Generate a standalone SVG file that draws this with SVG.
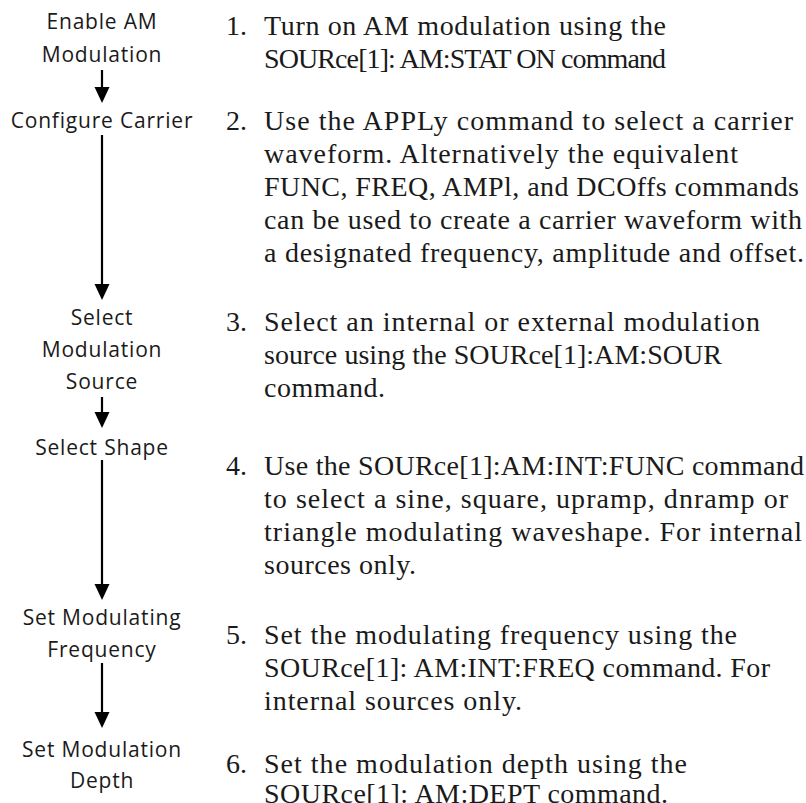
<svg xmlns="http://www.w3.org/2000/svg" width="806" height="803" viewBox="0 0 806 803">
<style>
.lbl{font-family:"Open Sans","DejaVu Sans",sans-serif;font-size:21px;letter-spacing:0.8px;fill:#1a1a1a;text-anchor:middle}
.txt{font-family:"Liberation Serif","Times New Roman",serif;font-size:28px;fill:#1a1a1a}
.nat{letter-spacing:0.5px}
.num{font-family:"Liberation Serif","Times New Roman",serif;font-size:28px;fill:#1a1a1a}
.conn{stroke:#000;stroke-width:2.2;fill:none}
.head{fill:#000}
</style>
<rect width="806" height="803" fill="#fff"/>
<g id="connectors">
<line class="conn" x1="102" y1="70" x2="102" y2="88"/><path class="head" d="M94.5,87 L109.5,87 L102,103 Z"/>
<line class="conn" x1="102" y1="135" x2="102" y2="286"/><path class="head" d="M94.5,284 L109.5,284 L102,300 Z"/>
<line class="conn" x1="102" y1="397" x2="102" y2="414"/><path class="head" d="M94.5,412 L109.5,412 L102,428 Z"/>
<line class="conn" x1="102" y1="460" x2="102" y2="586"/><path class="head" d="M94.5,584 L109.5,584 L102,600 Z"/>
<line class="conn" x1="102" y1="663" x2="102" y2="714"/><path class="head" d="M94.5,712 L109.5,712 L102,728 Z"/>
</g>
<g id="step1">
<text class="lbl" x="102" y="29">Enable AM</text>
<text class="lbl" x="102" y="62">Modulation</text>
<text class="num" x="226" y="35">1.</text>
<text class="txt" x="264" y="35" textLength="402" lengthAdjust="spacing">Turn on AM modulation using the</text>
<text class="txt" x="264" y="68" textLength="402" lengthAdjust="spacing">SOURce[1]: AM:STAT ON command</text>
</g>
<g id="step2">
<text class="lbl" x="102" y="128">Configure Carrier</text>
<text class="num" x="226" y="130">2.</text>
<text class="txt" x="264" y="130" textLength="529" lengthAdjust="spacing">Use the APPLy command to select a carrier</text>
<text class="txt" x="264" y="163" textLength="474" lengthAdjust="spacing">waveform. Alternatively the equivalent</text>
<text class="txt" x="264" y="196" textLength="535" lengthAdjust="spacing">FUNC, FREQ, AMPl, and DCOffs commands</text>
<text class="txt" x="264" y="229" textLength="538" lengthAdjust="spacing">can be used to create a carrier waveform with</text>
<text class="txt" x="264" y="262" textLength="540" lengthAdjust="spacing">a designated frequency, amplitude and offset.</text>
</g>
<g id="step3">
<text class="lbl" x="102" y="325">Select</text>
<text class="lbl" x="102" y="357">Modulation</text>
<text class="lbl" x="102" y="389">Source</text>
<text class="num" x="226" y="331">3.</text>
<text class="txt" x="264" y="331" textLength="496" lengthAdjust="spacing">Select an internal or external modulation</text>
<text class="txt" x="264" y="364" textLength="458" lengthAdjust="spacing">source using the SOURce[1]:AM:SOUR</text>
<text class="txt nat" x="264" y="397">command.</text>
</g>
<g id="step4">
<text class="lbl" x="102" y="455">Select Shape</text>
<text class="num" x="226" y="475">4.</text>
<text class="txt" x="264" y="475" textLength="540" lengthAdjust="spacing">Use the SOURce[1]:AM:INT:FUNC command</text>
<text class="txt" x="264" y="508" textLength="524" lengthAdjust="spacing">to select a sine, square, upramp, dnramp or</text>
<text class="txt" x="264" y="541" textLength="538" lengthAdjust="spacing">triangle modulating waveshape. For internal</text>
<text class="txt nat" x="264" y="574">sources only.</text>
</g>
<g id="step5">
<text class="lbl" x="102" y="625">Set Modulating</text>
<text class="lbl" x="102" y="657">Frequency</text>
<text class="num" x="226" y="644">5.</text>
<text class="txt" x="264" y="644" textLength="473" lengthAdjust="spacing">Set the modulating frequency using the</text>
<text class="txt" x="264" y="677" textLength="506" lengthAdjust="spacing">SOURce[1]: AM:INT:FREQ command. For</text>
<text class="txt" x="264" y="710" textLength="258" lengthAdjust="spacing">internal sources only.</text>
</g>
<g id="step6">
<text class="lbl" x="102" y="757">Set Modulation</text>
<text class="lbl" x="102" y="788">Depth</text>
<text class="num" x="226" y="773">6.</text>
<text class="txt" x="264" y="773" textLength="423" lengthAdjust="spacing">Set the modulation depth using the</text>
<text class="txt" x="264" y="803" textLength="404" lengthAdjust="spacing">SOURce[1]: AM:DEPT command.</text>
</g>
</svg>
